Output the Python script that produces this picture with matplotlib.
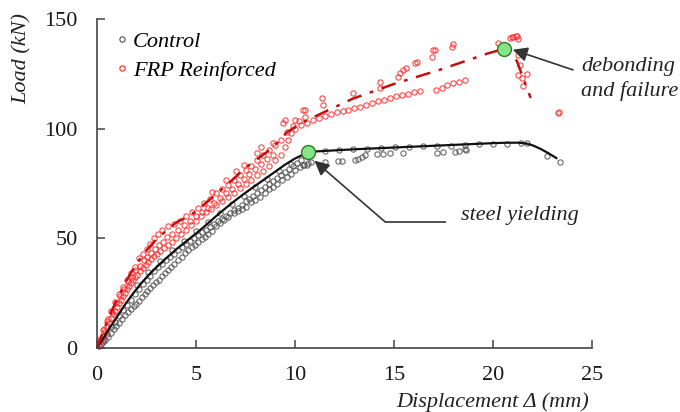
import matplotlib
matplotlib.use("Agg")
import matplotlib.pyplot as plt

plt.rcParams['font.family'] = ['Liberation Serif', 'DejaVu Serif']

# ---------------- data ----------------
# Control specimen: measured points (two loading records + post-yield plateau)
ctrl_low_x = [0.1, 0.2, 0.3, 0.4, 0.55, 0.7, 0.85, 0.95, 1.1, 1.25, 1.4, 1.55, 1.7, 1.85, 1.95,
              2.1, 2.25, 2.4, 2.55, 2.7, 2.85, 3.0, 3.15, 3.3, 3.45, 3.6, 3.75, 3.9, 4.1, 4.3,
              4.45, 4.6, 4.8, 4.95, 5.1, 5.3, 5.45, 5.6, 5.8, 6.0, 6.2, 6.4, 6.6, 6.9, 7.1,
              7.3, 7.55, 7.8, 8.0, 8.25, 8.5, 8.7, 8.9, 9.1, 9.35, 9.6, 9.8, 10.0, 10.25, 10.45, 10.6]
ctrl_low_y = [0.8, 1.8, 2.7, 3.6, 5.2, 7.0, 8.8, 10.0, 11.5, 13.2, 15.0, 16.4, 17.8, 19.0, 20.0,
              21.6, 23.2, 24.8, 26.0, 27.2, 28.7, 30.0, 31.2, 32.8, 34.2, 35.4, 36.8, 38.2, 40.0, 41.6,
              43.2, 44.5, 46.0, 47.0, 48.2, 49.5, 50.8, 52.0, 53.2, 55.8, 57.0, 58.4, 59.6, 61.4, 62.5,
              63.4, 64.4, 66.4, 67.5, 69.0, 70.8, 72.3, 73.6, 75.0, 76.6, 78.1, 79.5, 81.0, 82.7, 83.4, 83.6]
ctrl_up_x = [0.3, 0.5, 0.7, 0.9, 1.1, 1.3, 1.5, 1.7, 1.9, 2.1, 2.3, 2.5, 2.7, 2.9, 3.1, 3.3, 3.5,
             3.7, 3.9, 4.1, 4.3, 4.5, 4.7, 4.9, 5.1, 5.3, 5.5, 5.7, 5.9, 6.1, 6.3, 6.5, 6.7, 6.9,
             7.1, 7.3, 7.5, 7.7, 7.9, 8.1, 8.3, 8.5, 8.7, 8.9, 9.1, 9.3, 9.5, 9.7, 9.9, 10.1, 10.3,
             2.0, 2.6, 3.2, 3.8, 4.4, 5.0, 5.6, 6.2, 6.8, 7.4, 8.0, 8.6, 9.2, 9.8]
ctrl_up_y = [3.5, 6.5, 9.5, 12.0, 14.5, 17.2, 19.8, 22.0, 24.5, 26.8, 29.0, 31.0, 33.0, 35.0, 36.8,
             38.4, 40.0, 41.6, 43.0, 44.5, 46.0, 47.4, 48.8, 50.0, 51.4, 52.8, 54.0, 55.3, 56.6, 57.8,
             59.0, 60.2, 61.5, 62.8, 64.0, 65.4, 66.8, 68.0, 69.4, 70.8, 72.0, 73.3, 74.8, 76.2, 77.6,
             79.0, 80.4, 81.8, 83.0, 84.4, 85.6,
             28.5, 34.5, 39.5, 44.5, 49.0, 53.5, 57.5, 61.5, 65.5, 69.5, 73.5, 77.0, 80.5, 84.0]
ctrl_post_x = [11.52, 12.24, 12.95, 13.65, 14.34, 15.05, 15.76, 16.44, 17.15, 17.88, 18.59, 19.29,
               19.98, 20.69, 21.4, 21.7, 22.71, 23.38,
               10.42, 10.67, 10.8, 11.52, 12.19, 12.35, 13.03, 13.2, 13.37, 13.54, 14.12, 14.45,
               14.8, 15.44, 17.15, 17.49, 18.08, 18.3, 18.59, 18.65]
ctrl_post_y = [90.0, 90.3, 90.6, 90.9, 91.2, 91.5, 91.8, 91.9, 92.0, 92.2, 92.4, 92.8, 93.0, 93.1,
               93.4, 93.4, 87.5, 85.0,
               83.4, 84.2, 84.6, 84.6, 85.1, 85.3, 85.7, 86.2, 86.9, 88.0, 88.3, 88.4, 88.7, 88.7,
               88.7, 89.4, 89.5, 89.9, 90.6, 90.2]

# FRP-reinforced specimen: measured points
frp_low_x = [0.1, 0.2, 0.3, 0.4, 0.5, 0.6, 0.7, 0.8, 0.9, 1.0, 1.1, 1.2, 1.3, 1.4, 1.5, 1.6, 1.7,
             1.8, 1.9, 2.0, 2.15, 2.3, 2.45, 2.6, 2.75, 2.9, 3.05, 3.2, 3.4, 3.6, 3.8, 4.0, 4.25,
             4.5, 4.75, 5.0, 5.25, 5.5, 5.75, 6.0, 6.3, 6.6, 6.9, 7.2, 7.5, 7.8, 8.1, 8.4, 8.7,
             9.0, 9.3, 9.5, 9.65, 9.8, 10.0, 10.3, 10.6, 10.9, 11.2, 11.5, 11.8, 12.1, 12.4, 12.7,
             13.0, 13.3, 13.6, 13.9, 14.2, 14.5, 14.8, 15.1, 15.4, 15.7, 16.0, 16.3,
             17.1, 17.4, 17.7, 18.0, 18.3, 18.6]
frp_low_y = [1.5, 3.5, 5.5, 7.5, 9.5, 11.5, 13.5, 15.3, 17.0, 18.8, 20.5, 22.0, 23.6, 25.2, 26.8,
             28.2, 29.6, 31.0, 32.3, 33.5, 35.0, 36.5, 38.0, 39.3, 40.6, 41.8, 43.0, 44.2, 45.6,
             47.0, 48.4, 50.0, 52.0, 54.0, 56.0, 58.0, 60.0, 61.8, 63.6, 65.4, 67.0, 68.8, 70.8,
             72.8, 74.8, 76.8, 78.8, 80.8, 82.8, 85.5, 88.0, 91.5, 95.0, 98.0, 100.0, 101.5, 102.8,
             104.0, 105.0, 105.8, 106.6, 107.4, 108.0, 108.6, 109.3, 110.0, 110.8, 111.6, 112.4,
             113.2, 114.0, 114.8, 115.4, 116.0, 116.6, 117.2,
             117.6, 118.6, 119.9, 120.7, 121.2, 122.2]
frp_mid_x = [0.15, 0.35, 0.55, 0.75, 0.95, 1.15, 1.35, 1.55, 1.75, 1.95, 2.15, 2.35, 2.55, 2.75,
             2.95, 3.15, 3.35, 3.55, 3.8, 4.1, 4.4, 4.7, 5.0, 5.3, 5.6, 5.9, 6.2, 6.5, 6.8, 7.1,
             7.4, 7.7, 8.0, 8.3, 8.6, 8.9]
frp_mid_y = [4.0, 8.5, 13.0, 16.5, 20.5, 23.5, 27.0, 30.0, 32.5, 35.5, 37.5, 40.0, 41.5, 43.5,
             45.0, 47.0, 48.5, 50.5, 52.0, 54.0, 56.0, 58.0, 60.0, 62.0, 64.0, 66.0, 68.5, 70.5,
             72.5, 75.0, 77.0, 79.5, 81.5, 84.0, 86.0, 88.0]
frp_up_x = [0.3, 0.5, 0.7, 0.9, 1.1, 1.3, 1.5, 1.7, 1.9, 2.1, 2.3, 2.5, 2.7, 2.9, 3.1, 3.3, 3.6,
            3.9, 4.2, 4.5, 4.8, 5.1, 5.4, 5.7, 6.0, 6.3, 6.6, 6.9, 7.2, 7.5, 7.8, 8.1, 8.4, 8.7,
            9.0, 9.3, 9.6, 9.9, 10.2, 10.5,
            5.8, 6.5, 7.0, 7.4, 8.07, 8.3, 8.9, 9.41, 9.49, 10.0, 10.4, 10.5, 11.35, 11.43, 12.94,
            14.29, 14.29, 15.22, 15.3, 15.47, 15.6, 16.06, 16.15, 16.9, 16.99, 17.07, 17.91, 17.96]
frp_up_y = [8.0, 12.5, 17.0, 21.0, 24.5, 28.0, 31.0, 34.0, 37.0, 41.0, 43.0, 45.0, 47.5, 50.0,
            52.0, 54.0, 55.5, 56.5, 58.0, 60.0, 62.0, 64.0, 66.0, 68.0, 70.5, 72.5, 74.5, 76.5,
            79.0, 81.0, 83.0, 85.5, 88.0, 90.5, 92.5, 95.0, 98.5, 101.0, 103.5, 105.5,
            71.0, 76.5, 80.5, 83.4, 88.7, 91.5, 93.5, 102.5, 104.0, 104.0, 108.5, 108.5, 113.9,
            110.8, 116.1, 121.4, 118.4, 123.7, 125.2, 126.8, 127.5, 129.8, 130.6, 132.8, 135.9,
            135.9, 137.4, 138.6]
frp_peak_x = [20.24, 20.86, 20.94, 21.03, 21.16, 21.2, 21.28, 21.28, 21.36, 21.28, 21.45, 21.7,
              21.5, 23.3, 23.35]
frp_peak_y = [138.9, 141.2, 142.0, 142.0, 142.3, 142.3, 140.8, 133.6, 129.0, 124.5, 123.0, 124.9,
              119.5, 107.3, 107.6]

# Trend curves
ctrl_fit_x = [0, 0.3, 0.6, 1.0, 1.4, 1.8, 2.2, 2.6, 3.0, 3.5, 4.0, 4.5, 5.0, 5.5, 6.0, 6.5, 7.0,
              7.5, 8.0, 8.5, 9.0, 9.5, 10.0, 10.67, 11.0, 12, 13, 14, 15, 16, 17, 18, 19, 20,
              20.7, 21.3, 21.7, 22.0, 22.4, 22.8, 23.2]
ctrl_fit_y = [0, 4.2, 8.6, 14.0, 19.6, 24.6, 29.2, 33.2, 36.8, 41.0, 45.0, 48.6, 52.2, 56.0, 60.0,
              63.8, 67.4, 70.8, 74.0, 77.2, 80.4, 83.6, 86.4, 89.2, 89.6, 90.1, 90.6, 91.0, 91.4,
              91.8, 92.2, 92.6, 93.0, 93.4, 93.6, 93.6, 93.2, 92.4, 90.8, 88.8, 86.6]
frp_fit_x = [0, 0.5, 1, 1.5, 2, 2.5, 3, 3.5, 4, 4.5, 5, 6, 6.7, 7.5, 8.5, 9.0, 9.6, 10.3, 11.3,
             12.9, 15.1, 17.3, 19.7, 20.6, 21.2, 21.9]
frp_fit_y = [0, 12, 22, 31, 38.5, 44.5, 49.5, 53.5, 57.2, 59.5, 62.3, 70, 75.5, 82.2, 88.8, 92.5,
             98.4, 102.5, 106.8, 113.6, 120.7, 126.8, 134.2, 136.5, 131, 114]

# key events
yield_pt = (10.67, 89.2)
debond_pt = (20.56, 136.3)

x_ticks = [0, 5, 10, 15, 20, 25]
y_ticks = [0, 50, 100, 150]

# ---------------- figure ----------------
fig = plt.figure(figsize=(6.8, 4.12), dpi=100)
ax = fig.add_axes([97/680, 1 - 348/412, 495/680, 329/412])

ctrl_col = '#505050'
frp_col = '#ff2a2a'
mk = dict(marker='o', linestyle='none', markersize=3.8, markerfacecolor='none',
          markeredgewidth=0.8, clip_on=False)

ax.plot(ctrl_low_x + ctrl_up_x + ctrl_post_x, ctrl_low_y + ctrl_up_y + ctrl_post_y,
        color=ctrl_col, alpha=0.85, label='Control', **mk)
ax.plot(frp_low_x + frp_mid_x + frp_up_x + frp_peak_x, frp_low_y + frp_mid_y + frp_up_y + frp_peak_y,
        color=frp_col, alpha=0.85, label='FRP Reinforced', **mk)

ax.plot(ctrl_fit_x, ctrl_fit_y, color='#111111', lw=1.6, zorder=3)
ax.plot(frp_fit_x, frp_fit_y, color='#c01010', lw=1.8, dashes=(6, 3.5, 1.5, 3.5), zorder=3)

for p in (yield_pt, debond_pt):
    ax.plot([p[0]], [p[1]], marker='o', markersize=10, markerfacecolor='#86e486',
            markeredgecolor='#2a7a2a', markeredgewidth=1.0, linestyle='none', zorder=5)

# annotations
arrow_col = '#333333'
ax.plot([14.55, 17.63], [57.5, 57.5], color=arrow_col, lw=1.2, solid_capstyle='butt')
ax.annotate('', xy=(10.98, 85.4), xytext=(14.55, 57.5),
            arrowprops=dict(arrowstyle='-|>', color=arrow_col, lw=1.2, mutation_scale=22,
                            shrinkA=0, shrinkB=0))
ax.text(18.4, 60.6, 'steel yielding', fontsize=16, style='italic', ha='left', va='center',
        color='#222222')

ax.annotate('', xy=(21.0, 136.0), xytext=(24.04, 126.8),
            arrowprops=dict(arrowstyle='-|>', color=arrow_col, lw=1.2, mutation_scale=22,
                            shrinkA=0, shrinkB=0), annotation_clip=False)
ax.text(24.45, 122.6, 'debonding\nand failure', fontsize=16, style='italic', ha='left',
        va='center', color='#222222', linespacing=1.35, clip_on=False)

# axes styling
ax.set_xlim(0, 25)
ax.set_ylim(0, 150)
ax.set_xticks(x_ticks)
ax.set_yticks(y_ticks)
for s in ('top', 'right'):
    ax.spines[s].set_visible(False)
for s in ('left', 'bottom'):
    ax.spines[s].set_color('#444444')
    ax.spines[s].set_linewidth(1.2)
ax.tick_params(direction='in', length=6, width=1.1, color='#444444', labelsize=16,
               labelcolor='#1a1a1a')
ax.tick_params(axis='x', pad=13)
ax.tick_params(axis='y', pad=14)

ax.set_xlabel('Displacement Δ (mm)', fontsize=16, style='italic', color='#222222', va='center')
ax.xaxis.set_label_coords(0.80, -0.166)
ax.set_ylabel('Load (kN)', fontsize=16, style='italic', color='#222222', va='center')
ax.yaxis.set_label_coords(-0.152, 0.88)

leg = ax.legend(loc='upper left', bbox_to_anchor=(0.014, 0.99), frameon=False,
                prop=dict(family='Liberation Serif', style='italic', size=16),
                handletextpad=0.1, handlelength=0.8, labelspacing=0.4, borderaxespad=0)
for h in leg.legend_handles:
    h.set_alpha(1)

fig.savefig('out.png', dpi=100)
